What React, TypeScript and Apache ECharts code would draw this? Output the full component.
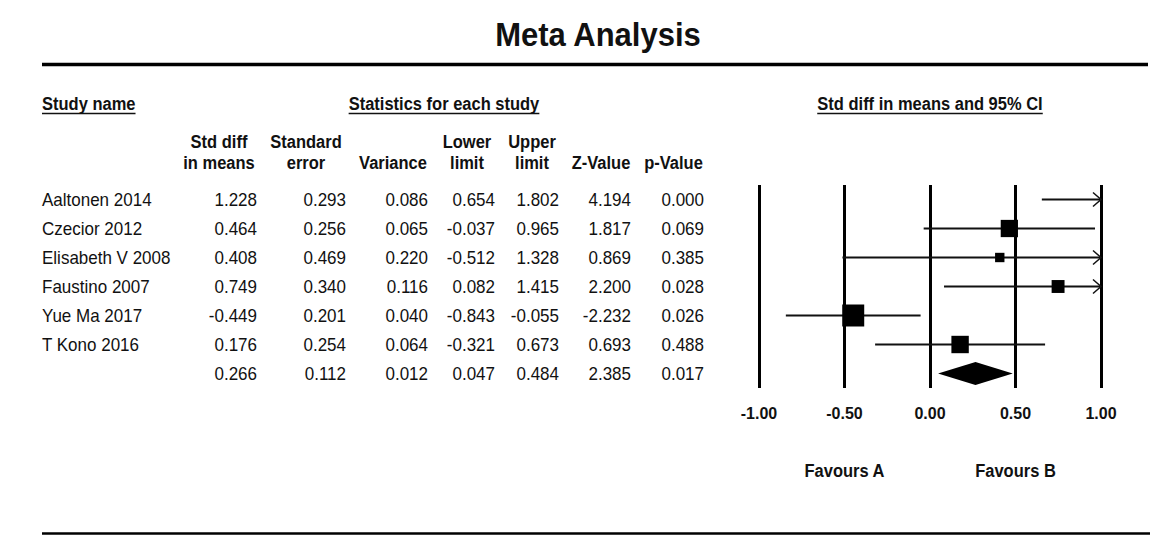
import React, { useEffect, useRef } from "react";
import * as echarts from "echarts";

// Study-level statistics
const studies = ["Aaltonen 2014", "Czecior 2012", "Elisabeth V 2008", "Faustino 2007", "Yue Ma 2017", "T Kono 2016", ""];
const stdDiff = [1.228, 0.464, 0.408, 0.749, -0.449, 0.176, 0.266];
const stdErr = [0.293, 0.256, 0.469, 0.34, 0.201, 0.254, 0.112];
const variance = [0.086, 0.065, 0.22, 0.116, 0.04, 0.064, 0.012];
const lowerLimit = [0.654, -0.037, -0.512, 0.082, -0.843, -0.321, 0.047];
const upperLimit = [1.802, 0.965, 1.328, 1.415, -0.055, 0.673, 0.484];
const zValue = [4.194, 1.817, 0.869, 2.2, -2.232, 0.693, 2.385];
const pValue = [0.0, 0.069, 0.385, 0.028, 0.026, 0.488, 0.017];
const summaryRow = 6;

// Forest plot axis
const axisMin = -1;
const axisMax = 1;
const axisStep = 0.5;
const favours = [
  { text: "Favours A", at: -0.5 },
  { text: "Favours B", at: 0.5 },
];

const FONT = "'Liberation Sans', Arial, Helvetica, sans-serif";
const INK = "#111";

function textWidth(str: string, font: string): number {
  const c = document.createElement("canvas").getContext("2d");
  if (!c) return str.length * 8;
  c.font = font;
  return c.measureText(str).width;
}

export default function App() {
  const ref = useRef<HTMLDivElement>(null);

  useEffect(() => {
    document.body.style.margin = "0";
    if (!ref.current) return;
    const chart = echarts.init(ref.current, null, { renderer: "svg" });

    const rowY = (i: number) => 199.5 + 29 * i;
    const graphics: any[] = [];

    const addText = (
      x: number,
      y: number,
      text: string,
      align: string,
      bold: boolean,
      size: number,
      stretch = 1.1
    ) => {
      graphics.push({
        type: "text",
        x,
        y,
        scaleY: stretch,
        style: {
          text,
          fill: INK,
          font: `${bold ? "bold " : ""}${size}px ${FONT}`,
          textAlign: align,
          textVerticalAlign: "middle",
        },
      });
    };
    const addUnderlined = (cx: number, y: number, text: string) => {
      addText(cx, y, text, "center", true, 16.5);
      const w = textWidth(text, `bold 16.5px ${FONT}`);
      graphics.push({
        type: "line",
        shape: { x1: cx - w / 2, y1: y + 9.5, x2: cx + w / 2, y2: y + 9.5 },
        style: { stroke: INK, lineWidth: 1.5 },
      });
    };

    // Title and rules
    addText(598, 35, "Meta Analysis", "center", true, 31, 1.08);
    graphics.push({ type: "line", shape: { x1: 42, y1: 64.5, x2: 1148, y2: 64.5 }, style: { stroke: "#000", lineWidth: 3.5 } });
    graphics.push({ type: "line", shape: { x1: 42, y1: 533.5, x2: 1150, y2: 533.5 }, style: { stroke: "#000", lineWidth: 2.5 } });

    // Section headers
    const studyW = textWidth("Study name", `bold 16.5px ${FONT}`);
    addUnderlined(42 + studyW / 2, 104, "Study name");
    addUnderlined(444, 104, "Statistics for each study");
    addUnderlined(930, 104, "Std diff in means and 95% CI");

    // Column headers
    const headers = [
      { cx: 219, l1: "Std diff", l2: "in means" },
      { cx: 306, l1: "Standard", l2: "error" },
      { cx: 393, l1: "", l2: "Variance" },
      { cx: 467, l1: "Lower", l2: "limit" },
      { cx: 532, l1: "Upper", l2: "limit" },
      { cx: 601, l1: "", l2: "Z-Value" },
      { cx: 673.5, l1: "", l2: "p-Value" },
    ];
    headers.forEach((h) => {
      if (h.l1) addText(h.cx, 142, h.l1, "center", true, 16.5);
      addText(h.cx, 163, h.l2, "center", true, 16.5);
    });

    // Table body
    const columns = [stdDiff, stdErr, variance, lowerLimit, upperLimit, zValue, pValue];
    const rightEdges = [257, 346, 428, 495, 559, 631, 704];
    studies.forEach((name, i) => {
      const y = rowY(i);
      if (name) addText(42, y, name, "left", false, 17);
      columns.forEach((col, c) => addText(rightEdges[c], y, col[i].toFixed(3), "right", false, 17));
    });

    // Favours labels under the axis
    const gridLeft = 759;
    const gridRight = 1101;
    favours.forEach((f) => {
      const x = gridLeft + ((f.at - axisMin) / (axisMax - axisMin)) * (gridRight - gridLeft);
      addText(x, 471, f.text, "center", true, 16.5);
    });

    const forestData = studies.map((_, i) => [
      lowerLimit[i],
      upperLimit[i],
      stdDiff[i],
      variance[i],
      i,
      i === summaryRow ? 1 : 0,
    ]);

    chart.setOption({
      animation: false,
      grid: { left: gridLeft, right: 1176 - gridRight, top: 185, bottom: 552 - 388 },
      xAxis: {
        type: "value",
        min: axisMin,
        max: axisMax,
        interval: axisStep,
        axisLine: { show: false },
        axisTick: { show: false },
        splitLine: { show: true, lineStyle: { color: "#000", width: 3 } },
        axisLabel: {
          color: INK,
          fontFamily: FONT,
          fontWeight: "bold",
          fontSize: 16,
          margin: 17,
          formatter: (v: number) => v.toFixed(2),
        },
      },
      yAxis: { type: "value", min: -0.5, max: 6.5, inverse: true, show: false },
      series: [
        {
          type: "custom",
          clip: false,
          encode: { x: [0, 1, 2], y: 4 },
          data: forestData,
          renderItem: (_params: any, api: any) => {
            const lo = api.value(0);
            const hi = api.value(1);
            const m = api.value(2);
            const v = api.value(3);
            const row = api.value(4);
            const isSummary = api.value(5) === 1;
            const y = api.coord([0, row])[1];
            const xl = api.coord([Math.max(lo, axisMin), row])[0];
            const xr = api.coord([Math.min(hi, axisMax), row])[0];
            const xm = api.coord([m, row])[0];
            const children: any[] = [];
            if (isSummary) {
              children.push({
                type: "polygon",
                shape: { points: [[xl, y], [xm, y - 11.5], [xr, y], [xm, y + 11.5]] },
                style: { fill: "#000" },
              });
              return { type: "group", children };
            }
            children.push({
              type: "line",
              shape: { x1: xl, y1: y, x2: xr, y2: y },
              style: { stroke: "#111", lineWidth: 2 },
            });
            if (hi > axisMax) {
              children.push({
                type: "polyline",
                shape: { points: [[xr - 8, y - 7], [xr, y], [xr - 8, y + 7]] },
                style: { stroke: "#111", lineWidth: 1.5, fill: "none" },
              });
            }
            if (lo < axisMin) {
              children.push({
                type: "polyline",
                shape: { points: [[xl + 8, y - 7], [xl, y], [xl + 8, y + 7]] },
                style: { stroke: "#111", lineWidth: 1.5, fill: "none" },
              });
            }
            if (m >= axisMin && m <= axisMax) {
              // square area scales with inverse-variance weight
              const s = 4.4 * Math.sqrt(1 / v);
              children.push({
                type: "rect",
                shape: { x: xm - s / 2, y: y - s / 2, width: s, height: s },
                style: { fill: "#000" },
              });
            }
            return { type: "group", children };
          },
        },
      ],
      graphic: graphics,
    });

    return () => chart.dispose();
  }, []);

  return <div ref={ref} style={{ width: 1176, height: 552, background: "#fff" }} />;
}
